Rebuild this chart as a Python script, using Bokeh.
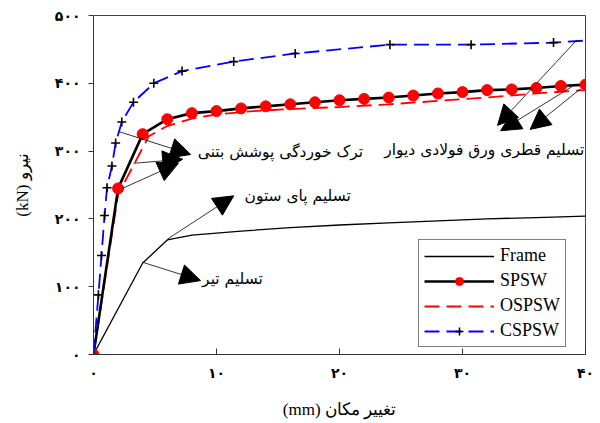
from bokeh.plotting import figure
from bokeh.models import (Arrow, NormalHead, Label, Legend, LegendItem,
                          Range1d, FixedTicker)
from bokeh.embed import file_html
from bokeh.resources import INLINE

# Load–displacement curves (displacement in mm, force in kN)
frame_x = [0, 4, 6, 8, 12, 16, 20, 24, 28, 32, 36, 40]
frame_y = [0, 135, 169, 176, 182, 187, 191, 194, 197, 200, 202, 204]

spsw_x = [0, 2, 4, 6, 8, 10, 12, 14, 16, 18, 20, 22, 24, 26, 28, 30, 32, 34, 36, 38, 40]
spsw_y = [0, 245, 325, 347, 356, 359, 363, 366, 369, 372, 375, 377, 379, 382, 385,
          387, 390, 391, 393, 396, 398]

ospsw_x = [0, 2, 4.5, 6, 8, 10, 13, 16, 20, 24, 28, 32, 36, 40]
ospsw_y = [0, 236, 322, 337, 348, 354, 359, 362, 365, 369, 374, 379, 385, 390]

cspsw_x = [0, 0.4, 0.65, 0.9, 1.1, 1.5, 1.8, 2.3, 3.25, 4.9, 7.2, 11.4, 16.4, 24.1,
           30.7, 37.4, 40]
cspsw_y = [0, 88, 146, 205, 246, 278, 312, 343, 372, 400, 418, 432, 444, 457,
           457, 460, 463]

x_ticks = [0, 10, 20, 30, 40]
x_tick_labels = ["۰", "۱۰", "۲۰", "۳۰", "۴۰"]
y_ticks = [0, 100, 200, 300, 400, 500]
y_tick_labels = ["۰", "۱۰۰", "۲۰۰", "۳۰۰", "۴۰۰", "۵۰۰"]

series_names = ["Frame", "SPSW", "OSPSW", "CSPSW"]

ARABIC = "DejaVu Sans"
SERIF = "Liberation Serif"

p = figure(width=600, height=423, x_range=Range1d(0, 40), y_range=Range1d(0, 500),
           output_backend="svg", toolbar_location=None,
           min_border_left=93, min_border_right=15, min_border_top=15,
           min_border_bottom=69)
p.xgrid.visible = False
p.ygrid.visible = False
p.outline_line_color = "#444444"
p.background_fill_color = "white"
p.border_fill_color = "white"

# axes
p.xaxis.ticker = FixedTicker(ticks=x_ticks)
p.xaxis.major_label_overrides = dict(zip(x_ticks, x_tick_labels))
p.yaxis.ticker = FixedTicker(ticks=y_ticks)
p.yaxis.major_label_overrides = dict(zip(y_ticks, y_tick_labels))
for ax in (p.xaxis[0], p.yaxis[0]):
    ax.axis_line_color = "#333333"
    ax.major_tick_line_color = "#333333"
    ax.minor_tick_line_color = None
    ax.major_label_text_font = ARABIC
    ax.major_label_text_font_style = "bold"
    ax.major_label_text_font_size = "14px"
    ax.major_label_text_color = "black"
    ax.axis_label_text_font = SERIF
    ax.axis_label_text_font_style = "normal"
    ax.axis_label_text_font_size = "17px"
    ax.axis_label_text_color = "black"
p.xaxis.major_tick_in = 6
p.xaxis.major_tick_out = 0
p.xaxis.major_label_standoff = 10
p.xaxis.axis_label = "(mm) تغییر مکان"
p.xaxis.axis_label_standoff = 16
p.yaxis.major_tick_in = 0
p.yaxis.major_tick_out = 5
p.yaxis.major_label_standoff = 8
p.yaxis.axis_label = "(kN) نیرو"
p.yaxis.axis_label_standoff = 20

# curves
r_frame = p.line(frame_x, frame_y, line_color="black", line_width=1.3)

r_ospsw = p.line(ospsw_x, ospsw_y, line_color="#ff0000", line_width=1.8,
                 line_dash="15 7")

r_spsw_line = p.line(spsw_x, spsw_y, line_color="black", line_width=2.6)
r_spsw_pts = p.scatter(spsw_x, spsw_y, marker="circle", size=11,
                       fill_color="#ff0000", line_color="#ff0000")

r_cspsw_line = p.line(cspsw_x, cspsw_y, line_color="#0000ff", line_width=1.8,
                      line_dash="15 7")
r_cspsw_pts = p.scatter(cspsw_x[:-1], cspsw_y[:-1], marker="cross", size=9,
                        line_color="black", line_width=1.6)

# event annotations: arrows from curve points to captions
arrows = [
    # concrete cover cracking
    ((2.03, 329), (7.9, 295)),
    ((3.25, 282), (7.25, 288)),
    ((2.35, 245), (6.9, 282)),
    # column base yielding
    ((6.0, 170), (11.4, 234)),
    # beam yielding
    ((4.0, 136), (8.7, 109)),
    # diagonal yielding of the steel plate
    ((39.3, 464), (32.85, 338)),
    ((38.9, 395), (33.1, 330)),
    ((39.6, 392), (35.5, 332)),
]
for (x0, y0), (x1, y1) in arrows:
    p.add_layout(Arrow(x_start=x0, y_start=y0, x_end=x1, y_end=y1,
                       line_color="black", line_width=0.8,
                       end=NormalHead(size=20, fill_color="black",
                                      line_color="black", line_width=1)))

captions = [
    ("ترک خوردگی پوشش بتنی", 15.2, 298, "center"),
    ("تسلیم قطری ورق فولادی دیوار", 39.9, 301, "right"),
    ("تسلیم پای ستون", 16.6, 234, "center"),
    ("تسلیم تیر", 11.3, 112, "center"),
]
for txt, cx, cy, align in captions:
    p.add_layout(Label(x=cx, y=cy, text=txt, text_font=ARABIC,
                       text_font_size="15.5px", text_align=align,
                       text_baseline="middle", text_color="black"))

legend = Legend(items=[
    LegendItem(label=series_names[0], renderers=[r_frame]),
    LegendItem(label=series_names[1], renderers=[r_spsw_line, r_spsw_pts]),
    LegendItem(label=series_names[2], renderers=[r_ospsw]),
    LegendItem(label=series_names[3], renderers=[r_cspsw_line, r_cspsw_pts]),
], location=(325, 7))
legend.border_line_color = "black"
legend.border_line_width = 1
legend.background_fill_color = "white"
legend.background_fill_alpha = 1
legend.label_text_font = SERIF
legend.label_text_font_size = "18px"
legend.label_text_color = "black"
legend.glyph_width = 70
legend.glyph_height = 20
legend.label_height = 20
legend.spacing = 4
legend.padding = 5
legend.margin = 0
legend.label_standoff = 6
p.add_layout(legend)

open("out.html", "w").write(file_html(p, INLINE))
